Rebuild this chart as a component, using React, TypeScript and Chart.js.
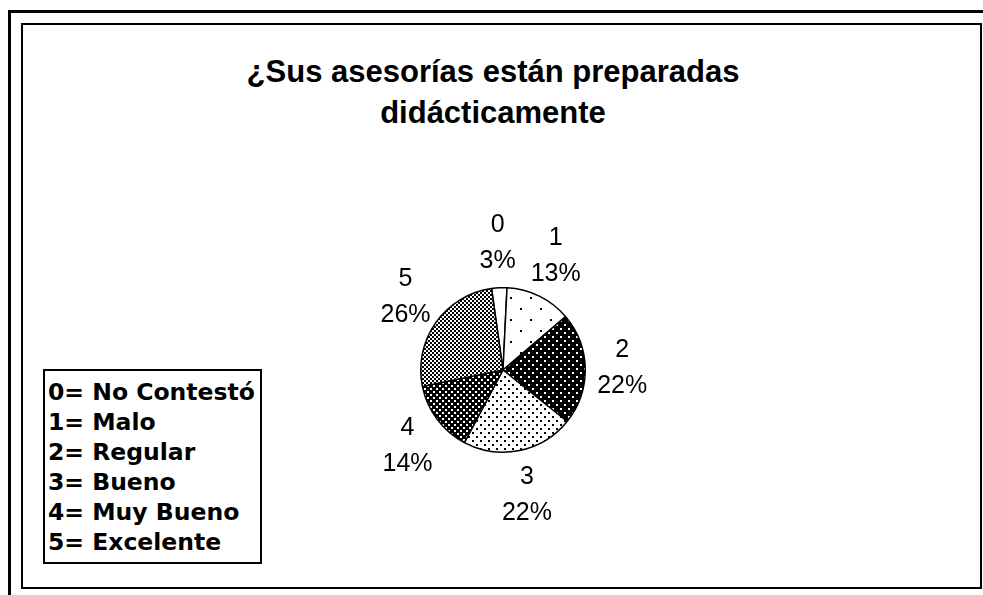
import React, { useEffect, useRef } from "react";
import { Chart, registerables } from "chart.js";

Chart.register(...registerables);

// ---- data ----
const categories = ["0", "1", "2", "3", "4", "5"];
const percentages = [3, 13, 22, 22, 14, 26];
const legendNames = ["No Contestó", "Malo", "Regular", "Bueno", "Muy Bueno", "Excelente"];
const titleLines = ["¿Sus asesorías están preparadas", "didácticamente"];
const patternKinds = ["blank", "sparse", "darkdots", "dots", "darkcheck", "check"];

function makePattern(kind: string): CanvasPattern | string {
  if (kind === "blank") return "#ffffff";
  const c = document.createElement("canvas");
  let w = 8, h = 8;
  if (kind === "sparse") { w = 20; h = 22; }
  if (kind === "check") { w = 4; h = 4; }
  if (kind === "darkcheck") { w = 6; h = 6; }
  c.width = w; c.height = h;
  const g = c.getContext("2d")!;
  const dark = kind === "darkdots" || kind === "darkcheck";
  g.fillStyle = dark ? "#000000" : "#ffffff";
  g.fillRect(0, 0, w, h);
  g.fillStyle = dark ? "#ffffff" : "#000000";
  if (kind === "sparse") { g.fillRect(0, 0, 2, 2); g.fillRect(10, 11, 2, 2); }
  if (kind === "darkdots") { g.fillRect(0, 0, 2, 2); g.fillRect(4, 4, 2, 2); }
  if (kind === "dots") { g.fillRect(0, 0, 2, 2); g.fillRect(4, 4, 2, 2); }
  if (kind === "check") { g.fillRect(0, 0, 2, 2); g.fillRect(2, 2, 2, 2); }
  if (kind === "darkcheck") { g.fillRect(1, 1, 2, 2); g.fillRect(4, 4, 2, 2); }
  const p = g.createPattern(c, "repeat");
  return p || "#888888";
}

const labelPlugin = {
  id: "outsideLabels",
  afterDatasetsDraw(chart: any) {
    const ctx = chart.ctx;
    const meta = chart.getDatasetMeta(0);
    ctx.save();
    ctx.fillStyle = "#000000";
    ctx.font = "25px 'Liberation Sans', Arial, sans-serif";
    ctx.textAlign = "center";
    ctx.textBaseline = "middle";
    meta.data.forEach((arc: any, i: number) => {
      const { x, y, startAngle, endAngle, outerRadius } = arc.getProps(
        ["x", "y", "startAngle", "endAngle", "outerRadius"],
        true
      );
      const mid = (startAngle + endAngle) / 2;
      const lx = x + Math.cos(mid) * (outerRadius + 37);
      const ly = y + Math.sin(mid) * (outerRadius + 45);
      ctx.fillText(categories[i], lx, ly - 18);
      ctx.fillText(percentages[i] + "%", lx, ly + 18);
    });
    ctx.restore();
  },
};

export default function App() {
  const ref = useRef<HTMLCanvasElement>(null);

  useEffect(() => {
    document.body.style.margin = "0";
    const canvas = ref.current!;
    const chart = new Chart(canvas, {
      type: "pie",
      data: {
        labels: categories,
        datasets: [
          {
            data: percentages,
            backgroundColor: patternKinds.map(makePattern) as any,
            borderColor: "#000000",
            borderWidth: 1.5,
          },
        ],
      },
      options: {
        responsive: false,
        animation: false,
        devicePixelRatio: 1,
        rotation: -8,
        layout: { padding: { left: 420, right: 397, top: 287, bottom: 142 } },
        plugins: {
          legend: { display: false },
          tooltip: { enabled: false },
          title: { display: false },
        },
      },
      plugins: [labelPlugin],
    });
    return () => chart.destroy();
  }, []);

  return (
    <div
      style={{
        position: "fixed",
        left: 0,
        top: 0,
        width: 983,
        height: 595,
        overflow: "hidden",
        background: "#ffffff",
      }}
    >
      {/* outer frame (cropped at right/bottom) */}
      <div
        style={{
          position: "absolute",
          left: 8,
          top: 10,
          width: 1000,
          height: 620,
          border: "3px solid #000",
          boxSizing: "border-box",
        }}
      />
      {/* inner frame */}
      <div
        style={{
          position: "absolute",
          left: 21,
          top: 23,
          width: 961,
          height: 566,
          border: "2px solid #000",
          boxSizing: "border-box",
          background: "#fff",
        }}
      />
      {/* title */}
      <div
        style={{
          position: "absolute",
          left: 0,
          top: 51,
          width: 986,
          textAlign: "center",
          fontFamily: "'Liberation Sans', Arial, sans-serif",
          fontWeight: "bold",
          fontSize: 31,
          lineHeight: "41px",
          color: "#000",
        }}
      >
        {titleLines.map((t, i) => (
          <div key={i}>{t}</div>
        ))}
      </div>
      <canvas
        ref={ref}
        width={983}
        height={595}
        style={{ position: "absolute", left: 0, top: 0, width: 983, height: 595 }}
      />
      {/* legend box */}
      <div
        style={{
          position: "absolute",
          left: 43,
          top: 369,
          width: 219,
          height: 195,
          border: "2px solid #000",
          boxSizing: "border-box",
          background: "#fff",
        }}
      />
      <div
        style={{
          position: "absolute",
          left: 48,
          top: 377,
          fontFamily: "'DejaVu Sans', Verdana, sans-serif",
          fontWeight: "bold",
          fontSize: 23.5,
          lineHeight: "30px",
          color: "#000",
          whiteSpace: "nowrap",
        }}
      >
        {categories.map((c, i) => (
          <div key={c}>{c + "= " + legendNames[i]}</div>
        ))}
      </div>
    </div>
  );
}
